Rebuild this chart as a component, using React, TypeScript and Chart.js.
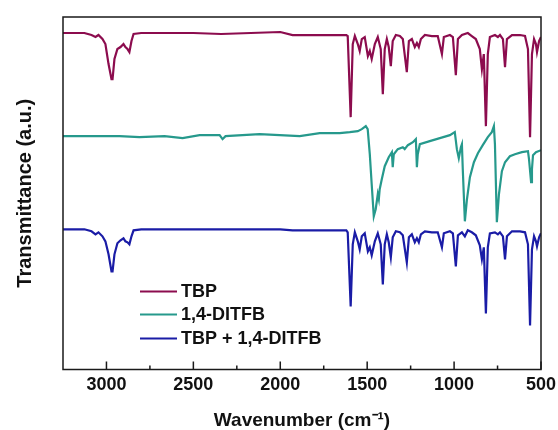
import React, { useEffect, useRef } from "react";
import { Chart, registerables } from "chart.js";

Chart.register(...registerables);

// Wavenumber (cm-1) and transmittance (a.u., offset stacked) for each spectrum
const tbpX = [3250,3127,3086,3063,3046,3023,3006,2988,2971,2965,2954,2937,2919,2902,2891,2879,2868,2856,2844,2800,2500,2340,2000,1929,1700,1620,1612,1595,1583,1571,1554,1543,1531,1514,1496,1485,1474,1456,1439,1422,1410,1399,1387,1376,1364,1353,1335,1312,1295,1272,1260,1243,1226,1214,1203,1191,1168,1128,1094,1070,1059,1024,1007,990,978,955,921,898,875,852,840,829,817,806,794,765,748,736,719,707,696,667,621,592,575,563,552,540,529,523,511,500];
const tbpY = [336,336,334,332,334,330,325,305,290,290,310,320,322,325,322,320,317,328,335,336,336,335,337,334,334,334,333,252,325,333,325,318,330,332,313,318,310,325,332,320,275,320,330,322,303,328,334,333,330,297,328,330,322,326,322,330,334,333,333,315,332,334,332,294,330,334,336,333,330,320,300,315,243,315,332,334,332,334,330,302,330,334,334,333,320,232,315,330,325,317,328,332];

const ditfbX = [3250,2925,2810,2666,2562,2464,2349,2332,2315,2119,1888,1773,1658,1600,1554,1531,1508,1497,1485,1474,1462,1451,1439,1433,1428,1416,1399,1376,1358,1353,1347,1324,1295,1284,1266,1237,1220,1214,1209,1197,1140,1082,1024,996,984,973,961,955,950,938,926,909,886,863,835,806,783,771,765,754,742,725,707,679,650,610,575,569,557,552,546,529,500];
const ditfbY = [233,233,232,233,231,234,234,230,233,235,233,236,236,237,238,240,243,240,215,185,153,160,175,170,180,190,203,212,217,202,215,220,222,220,224,227,230,202,215,225,228,231,234,237,220,211,222,225,200,148,170,192,207,216,224,232,237,243,225,147,175,198,207,213,215,217,218,210,187,200,214,217,219];

const mixX = [3250,3127,3086,3063,3046,3023,3006,2988,2971,2965,2954,2937,2919,2902,2891,2879,2868,2856,2844,2800,2500,2340,2000,1929,1700,1620,1612,1595,1583,1571,1554,1543,1531,1514,1496,1485,1474,1456,1439,1422,1410,1399,1387,1376,1364,1353,1335,1312,1295,1272,1260,1243,1226,1214,1203,1191,1168,1128,1094,1070,1059,1024,1007,990,978,955,938,921,898,875,852,840,829,817,806,794,765,748,736,719,707,696,667,621,592,575,563,552,540,529,523,511,500];
const mixY = [140,140,138,135,137,133,128,115,98,98,115,126,129,131,128,127,125,133,139,140,140,140,140,139,139,139,137,63,125,137,128,120,133,136,118,122,114,128,136,125,85,125,135,127,112,132,138,137,134,107,132,135,127,131,127,135,138,137,137,122,136,138,136,103,134,137,133,139,137,134,124,110,122,56,122,136,137,135,137,133,110,133,138,138,137,125,44,120,133,128,123,132,136];

const seriesLabels = ["TBP", "1,4-DITFB", "TBP + 1,4-DITFB"];
const seriesColors = ["#8c0c4e", "#26998c", "#1a1ca6"];

const majorTicks = [3000, 2500, 2000, 1500, 1000, 500];
const minorTicks = [2750, 2250, 1750, 1250, 750];

const xTitle = "Wavenumber (cm\u207B\u00B9)";
const yTitle = "Transmittance (a.u.)";

const FONT = "'Liberation Sans', Arial, Helvetica, sans-serif";

const toPoints = (xs: number[], ys: number[]) => xs.map((x, i) => ({ x, y: ys[i] }));

const framePlugin = {
  id: "frameTicksLegend",
  afterDatasetsDraw(chart: any) {
    const { ctx, chartArea } = chart;
    const { left, right, top, bottom } = chartArea;
    const xs = chart.scales.x;
    ctx.save();
    ctx.strokeStyle = "#1a1a1a";
    ctx.lineWidth = 1.5;
    ctx.strokeRect(left, top, right - left, bottom - top);
    ctx.beginPath();
    for (const v of majorTicks) {
      const px = xs.getPixelForValue(v);
      ctx.moveTo(px, bottom);
      ctx.lineTo(px, bottom - 8);
    }
    for (const v of minorTicks) {
      const px = xs.getPixelForValue(v);
      ctx.moveTo(px, bottom);
      ctx.lineTo(px, bottom - 4);
    }
    ctx.stroke();

    // legend
    const x0 = left + 77;
    const rows = [bottom - 78, bottom - 55, bottom - 31];
    ctx.font = `bold 18px ${FONT}`;
    ctx.textBaseline = "middle";
    ctx.textAlign = "left";
    chart.data.datasets.forEach((ds: any, i: number) => {
      const y = rows[i];
      ctx.strokeStyle = ds.borderColor;
      ctx.lineWidth = 2;
      ctx.beginPath();
      ctx.moveTo(x0, y);
      ctx.lineTo(x0 + 37, y);
      ctx.stroke();
      ctx.fillStyle = "#111";
      ctx.fillText(ds.label, x0 + 41, y + 1);
    });
    ctx.restore();
  },
};

export default function App() {
  const ref = useRef<HTMLCanvasElement>(null);
  useEffect(() => {
    document.body.style.margin = "0";
    Chart.defaults.font.family = FONT;
    const chart = new Chart(ref.current!, {
      type: "line",
      data: {
        datasets: [
          { label: seriesLabels[0], data: toPoints(tbpX, tbpY), borderColor: seriesColors[0] },
          { label: seriesLabels[1], data: toPoints(ditfbX, ditfbY), borderColor: seriesColors[1] },
          { label: seriesLabels[2], data: toPoints(mixX, mixY), borderColor: seriesColors[2] },
        ].map((d) => ({ ...d, borderWidth: 2.2, pointRadius: 0, tension: 0, fill: false })),
      },
      options: {
        responsive: false,
        animation: false,
        layout: { padding: { left: 5, top: 17, right: 17, bottom: 0 } },
        plugins: { legend: { display: false }, tooltip: { enabled: false } },
        scales: {
          x: {
            type: "linear",
            reverse: true,
            min: 500,
            max: 3250,
            grid: { display: false, drawTicks: false },
            border: { display: false },
            afterBuildTicks: (s: any) => {
              s.ticks = majorTicks.map((v) => ({ value: v }));
            },
            afterFit: (s: any) => {
              s.paddingLeft = 0;
              s.paddingRight = 0;
            },
            ticks: {
              autoSkip: false,
              maxRotation: 0,
              padding: 7,
              color: "#111",
              font: { size: 18, weight: "bold", lineHeight: 1 },
              callback: (v: any) => String(v),
            },
            title: {
              display: true,
              text: xTitle,
              color: "#111",
              padding: { top: 9.5, bottom: 0 },
              font: { size: 19, weight: "bold", lineHeight: 1 },
            },
          },
          y: {
            min: 0,
            max: 352,
            grid: { display: false, drawTicks: false },
            border: { display: false },
            ticks: { display: false },
            title: {
              display: true,
              text: yTitle,
              color: "#111",
              padding: { top: 8, bottom: 26 },
              font: { size: 20, weight: "bold", lineHeight: 1.2 },
            },
          },
        },
      },
      plugins: [framePlugin],
    } as any);
    return () => chart.destroy();
  }, []);
  return <canvas ref={ref} width={558} height={430} />;
}
